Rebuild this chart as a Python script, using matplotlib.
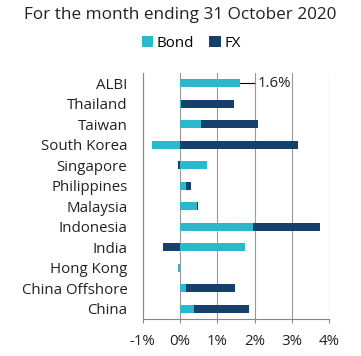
import numpy as np
import matplotlib
matplotlib.use("Agg")
import matplotlib.pyplot as plt

plt.rcParams['font.family'] = ['Open Sans', 'DejaVu Sans']

countries = ["ALBI", "Thailand", "Taiwan", "South Korea", "Singapore", "Philippines",
             "Malaysia", "Indonesia", "India", "Hong Kong", "China Offshore", "China"]
bond = [1.60, 0.04, 0.56, -0.75, 0.72, 0.16, 0.45, 1.97, 1.74, -0.05, 0.16, 0.37]
fx = [0.00, 1.42, 1.52, 3.15, -0.05, 0.15, 0.03, 1.77, -0.44, 0.00, 1.31, 1.47]
ticks = [-1, 0, 1, 2, 3, 4]
tick_labels = ["-1%", "0%", "1%", "2%", "3%", "4%"]

bond_color = "#2ab9cc"
fx_color = "#15406b"
fs = 10.8

fig = plt.figure(figsize=(3.61, 3.56), dpi=100)
ax = fig.add_axes([0.395, 0.104, 0.517, 0.691])

y = np.arange(len(countries))[::-1]
bond = np.array(bond)
fx = np.array(fx)

# stack positives and negatives separately
pos_base = np.zeros(len(countries))
neg_base = np.zeros(len(countries))
for vals, col, lab in [(bond, bond_color, "Bond"), (fx, fx_color, "FX")]:
    base = np.where(vals >= 0, pos_base, neg_base)
    ax.barh(y, vals, left=base, height=0.4, color=col, label=lab, zorder=3)
    pos_base = pos_base + np.where(vals > 0, vals, 0)
    neg_base = neg_base + np.where(vals < 0, vals, 0)

ax.set_xlim(-1, 4)
ax.set_ylim(-0.5, len(countries) - 0.5)
ax.set_xticks(ticks)
ax.set_xticklabels(tick_labels, fontsize=fs, color="#222222")
ax.set_yticks(y)
ax.set_yticklabels(countries, fontsize=fs, color="#222222")
ax.tick_params(axis="y", length=0, pad=11)
ax.tick_params(axis="x", length=3, width=0.8, color="#888888", pad=8)
ax.grid(axis="x", color="#999999", linewidth=0.8, zorder=0)
for s in ["top", "right"]:
    ax.spines[s].set_visible(False)
ax.spines["left"].set_color("#888888")
ax.spines["bottom"].set_color("#888888")

# ALBI total label
ax.plot([bond[0], bond[0] + 0.38], [y[0], y[0]], color="black", linewidth=0.8, zorder=4)
ax.text(bond[0] + 0.48, y[0], "1.6%", va="center", ha="left", fontsize=fs, color="#222222")

fig.text(0.5, 0.958, "For the month ending 31 October 2020", ha="center", va="center",
         fontsize=12.3, color="#222222")
ax.legend(loc="center", bbox_to_anchor=(0.53, 0.878), bbox_transform=fig.transFigure,
          ncol=2, frameon=False, fontsize=fs, handlelength=0.75, handleheight=0.75,
          handletextpad=0.25, columnspacing=1.0, borderpad=0)

fig.savefig("out.png", dpi=100)
